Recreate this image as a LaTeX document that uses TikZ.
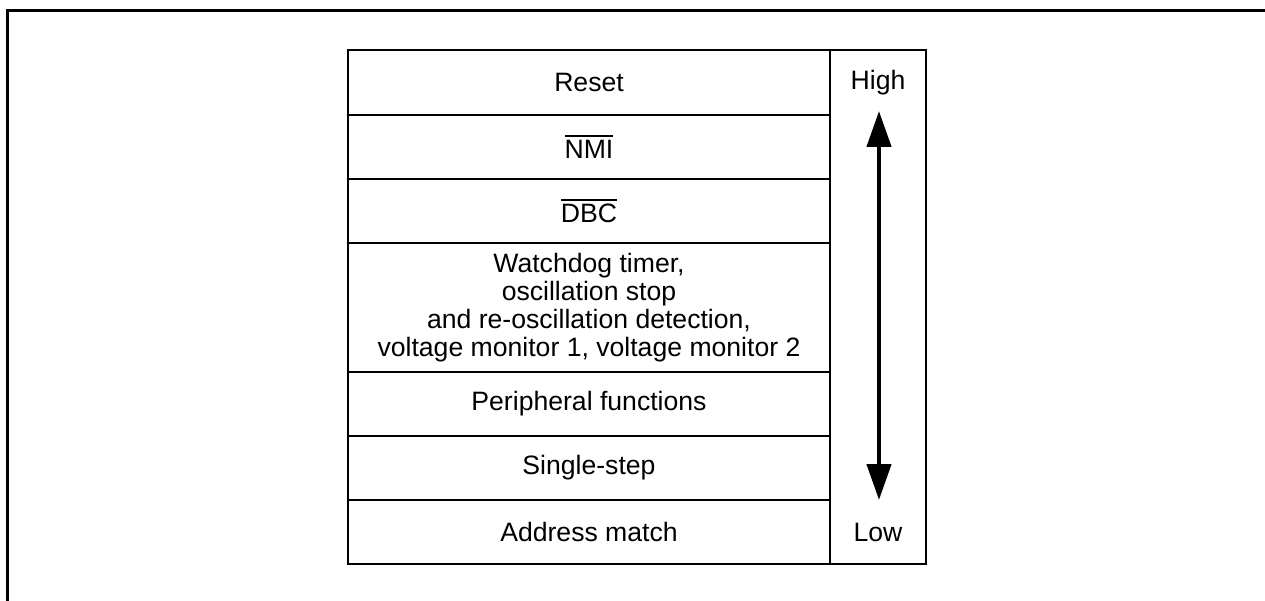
\documentclass[tikz,border=0pt]{standalone}
\usepackage{fontspec}
\setmainfont{Liberation Sans}
\usetikzlibrary{arrows.meta}
\newcommand\ovltext[1]{\leavevmode\vbox{\hrule height 1.7pt\kern 3.6pt\hbox{#1}}}
\tikzset{
  frameline/.style={line width=3.2pt, line cap=butt},
  cell/.style={draw=black, line width=1.4pt, minimum width=482pt, inner sep=0pt, align=center,
     font=\fontsize{26.6}{28.2}\selectfont},
  lvl/.style={inner sep=0pt, font=\fontsize{26.6}{28.2}\selectfont},
  prio/.style={line width=4.5pt, {Triangle[length=36pt,width=24pt]}-{Triangle[length=36pt,width=24pt]}}
}
\begin{document}
\begin{tikzpicture}[x=1pt,y=-1pt]
\useasboundingbox (0,0) rectangle (1265,601);
% outer frame (partially visible)
\draw[frameline] (7.5,601) -- (7.5,10.5) -- (1265,10.5);
% rows
\node[cell, minimum height=65pt] (reset) at (589,82.5) {Reset};
\node[cell, minimum height=64pt] (nmi) at (589,147) {\ovltext{NMI}};
\node[cell, minimum height=64pt] (dbc) at (589,211) {\ovltext{DBC}};
\node[cell, minimum height=129pt] (wdt) at (589,307.5) {Watchdog timer,\\oscillation stop\\and re-oscillation detection,\\voltage monitor 1, voltage monitor 2};
\node[cell, minimum height=64pt] (per) at (589,404) {Peripheral functions};
\node[cell, minimum height=64pt] (ss) at (589,468) {Single-step};
\node[cell, minimum height=64pt] (am) at (589,532) {Address match};
% priority column
\node[draw=black, line width=1.4pt, minimum width=96pt, minimum height=514pt, inner sep=0pt] (col) at (878,307) {};
\node[lvl] (high) at (878,82.5) {High};
\node[lvl] (low) at (878,532) {Low};
\coordinate (top) at (879,111);
\coordinate (bot) at (879,500);
\draw[prio] (top) -- (bot);
\end{tikzpicture}
\end{document}
